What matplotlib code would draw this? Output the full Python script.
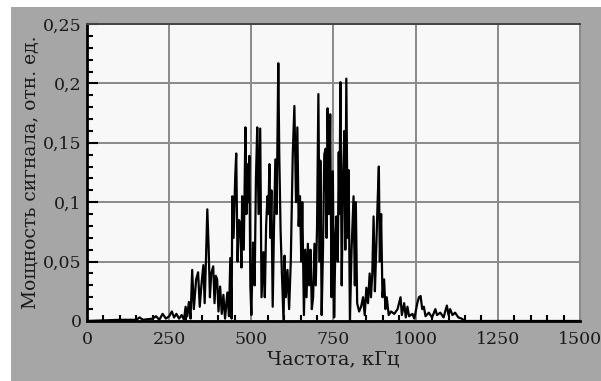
import numpy as np
import matplotlib
matplotlib.use('Agg')
import matplotlib.pyplot as plt
from matplotlib.ticker import MultipleLocator
from matplotlib.patches import Rectangle

# Spectrum data -----------------------------------------------------
freq = [0, 100, 150, 160, 170, 200, 210, 220, 230, 240, 250, 258, 265, 272, 280, 288, 295,
        300, 305, 310, 315, 320, 325, 332, 338, 343, 348, 354, 358, 362, 366, 370, 374, 378,
        384, 388, 392, 396, 400, 405, 410, 415, 420, 427, 432, 436, 440, 442, 446, 451, 454,
        458, 462, 466, 470, 472, 477, 482, 485, 488, 491, 494, 497, 500, 505, 510, 514, 518,
        522, 527, 531, 537, 541, 545, 549, 552, 555, 558, 561, 565, 569, 573, 577, 582, 585,
        589, 593, 598, 601, 605, 610, 615, 620, 626, 631, 636, 640, 644, 648, 652, 655, 660,
        664, 668, 672, 676, 680, 684, 688, 692, 696, 700, 704, 708, 710, 714, 718, 722, 726,
        729, 732, 736, 740, 744, 748, 752, 756, 759, 763, 766, 768, 771, 775, 779, 783, 786,
        789, 793, 796, 800, 805, 811, 815, 818, 822, 828, 834, 840, 845, 850, 855, 860, 864,
        868, 872, 876, 880, 884, 888, 891, 895, 899, 904, 908, 912, 918, 925, 935, 945, 954,
        958, 965, 970, 975, 980, 990, 996, 1005, 1010, 1015, 1020, 1025, 1030, 1040, 1050,
        1060, 1065, 1075, 1085, 1095, 1100, 1105, 1112, 1120, 1130, 1140, 1150, 1500]
power = [0.0, 0.001, 0.001, 0.003, 0.001, 0.002, 0.004, 0.001, 0.006, 0.002, 0.004, 0.008,
         0.003, 0.006, 0.002, 0.005, 0.001, 0.012, 0.004, 0.016, 0.002, 0.043, 0.010, 0.035,
         0.041, 0.012, 0.030, 0.047, 0.015, 0.052, 0.094, 0.062, 0.020, 0.040, 0.046, 0.015,
         0.038, 0.035, 0.008, 0.029, 0.006, 0.022, 0.002, 0.024, 0.004, 0.053, 0.002, 0.105,
         0.070, 0.122, 0.141, 0.050, 0.085, 0.083, 0.045, 0.105, 0.060, 0.163, 0.090, 0.132,
         0.100, 0.139, 0.030, 0.005, 0.066, 0.030, 0.120, 0.163, 0.090, 0.162, 0.020, 0.058,
         0.020, 0.080, 0.105, 0.090, 0.132, 0.070, 0.110, 0.012, 0.080, 0.136, 0.090, 0.217,
         0.140, 0.076, 0.040, 0.000, 0.055, 0.020, 0.043, 0.010, 0.050, 0.140, 0.181, 0.100,
         0.163, 0.080, 0.105, 0.050, 0.100, 0.005, 0.060, 0.020, 0.065, 0.030, 0.060, 0.010,
         0.020, 0.065, 0.030, 0.080, 0.191, 0.050, 0.135, 0.005, 0.060, 0.140, 0.145, 0.070,
         0.179, 0.090, 0.174, 0.020, 0.126, 0.003, 0.070, 0.088, 0.050, 0.142, 0.090, 0.201,
         0.030, 0.120, 0.160, 0.060, 0.204, 0.070, 0.127, 0.000, 0.060, 0.105, 0.030, 0.100,
         0.015, 0.008, 0.012, 0.020, 0.005, 0.028, 0.015, 0.040, 0.020, 0.040, 0.088, 0.025,
         0.060, 0.098, 0.130, 0.050, 0.090, 0.020, 0.035, 0.010, 0.020, 0.005, 0.008, 0.006,
         0.010, 0.020, 0.005, 0.015, 0.003, 0.012, 0.004, 0.006, 0.002, 0.015, 0.020, 0.021,
         0.010, 0.012, 0.004, 0.007, 0.003, 0.010, 0.005, 0.007, 0.003, 0.013, 0.005, 0.010,
         0.005, 0.007, 0.003, 0.002, 0.0, 0.0]

xticks = [0, 250, 500, 750, 1000, 1250, 1500]
xticklabels = ['0', '250', '500', '750', '1000', '1250', '1500']
yticks = [0, 0.05, 0.1, 0.15, 0.2, 0.25]
yticklabels = ['0', '0,05', '0,1', '0,15', '0,2', '0,25']

# Figure --------------------------------------------------------------
plt.rcParams['font.family'] = ['DejaVu Serif']
fig = plt.figure(figsize=(6.01, 3.81), dpi=100, facecolor='#a6a6a6')
fig.patches.append(Rectangle((0, 0.982), 1, 0.02, transform=fig.transFigure,
                             facecolor='white', edgecolor='none', zorder=-1))
fig.patches.append(Rectangle((0, 0), 0.018, 1, transform=fig.transFigure,
                             facecolor='white', edgecolor='none', zorder=-1))
ax = fig.add_axes([0.1448, 0.1575, 0.8202, 0.7795])
ax.set_facecolor('#f8f8f8')

ax.plot(freq, power, color='black', lw=1.6, zorder=3)

ax.set_xlim(0, 1500)
ax.set_ylim(0, 0.25)
ax.set_xticks(xticks)
ax.set_xticklabels(xticklabels)
ax.set_yticks(yticks)
ax.set_yticklabels(yticklabels)
ax.xaxis.set_minor_locator(MultipleLocator(50))
ax.yaxis.set_minor_locator(MultipleLocator(0.01))

ax.grid(True, which='major', color='#8a8a8a', lw=1.4, zorder=1)
ax.tick_params(which='major', direction='in', length=8, width=1.5, color='black',
               labelsize=12.5, pad=4, labelcolor='#1a1a1a')
ax.tick_params(which='minor', direction='in', length=4, width=1.5, color='black')
ax.tick_params(axis='x', which='major', length=0, pad=7)

for s in ['left', 'bottom']:
    ax.spines[s].set_linewidth(2)
    ax.spines[s].set_color('black')
ax.spines['top'].set_color('#444444')
ax.spines['top'].set_linewidth(1.4)
ax.spines['right'].set_color('#8a8a8a')
ax.spines['right'].set_linewidth(1.4)

ax.set_xlabel('Частота, кГц', fontsize=14, color='#1a1a1a', labelpad=2)
ax.set_ylabel('Мощность сигнала, отн. ед.', fontsize=13.5, color='#1a1a1a', labelpad=2)

fig.savefig('out.png', dpi=100, facecolor=fig.get_facecolor())
